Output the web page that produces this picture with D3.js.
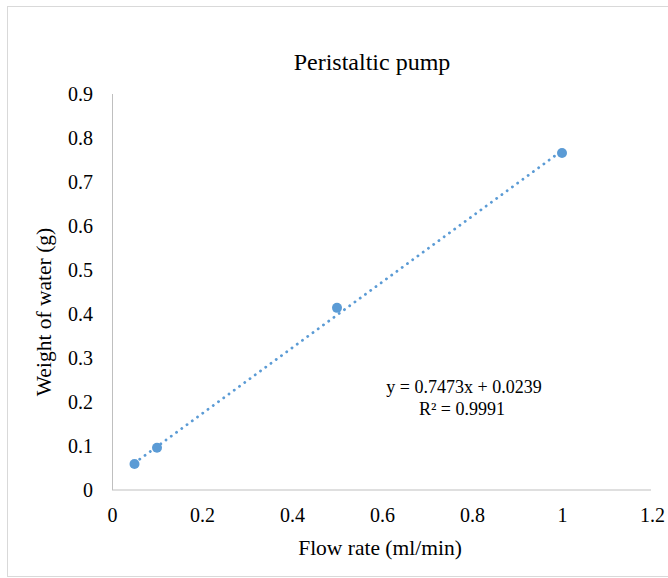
<!DOCTYPE html>
<html>
<head>
<meta charset="utf-8">
<script src="https://cdn.jsdelivr.net/npm/d3@7"></script>
<style>
  body { margin: 0; background: #fff; }
  svg text { font-family: "Liberation Serif", "Times New Roman", serif; fill: #000; }
</style>
</head>
<body>
<div id="container"></div>
<script>
// chart size
const width = 668,
height = 578,
margin = {top: 94, bottom: 88, left: 112, right: 16};

// data
const flowRate = [0.05, 0.1, 0.5, 1];
const weight = [0.059, 0.096, 0.414, 0.766];
const xTicks = [0, 0.2, 0.4, 0.6, 0.8, 1, 1.2];
const yTicks = [0, 0.1, 0.2, 0.3, 0.4, 0.5, 0.6, 0.7, 0.8, 0.9];
const slope = 0.7473, intercept = 0.0239;
const rSquared = 0.9991;

const points = flowRate.map((d, i) => ({x: d, y: weight[i]}));
const serif = "Liberation Serif";

const svg = d3.select("#container").append("svg")
  .attr("width", width)
  .attr("height", height);

// outer chart border
svg.append("rect")
  .attr("x", 7.5).attr("y", 6.5)
  .attr("width", 680).attr("height", 570)
  .attr("fill", "none")
  .attr("stroke", "#d9d9d9");

const xScale = d3.scaleLinear().domain([0, 1.2]).range([margin.left, width - margin.right]);
const yScale = d3.scaleLinear().domain([0, 0.9]).range([height - margin.bottom, margin.top]);

// axes
const fmt = d => String(+d.toFixed(1));
const xAxis = d3.axisBottom(xScale).tickValues(xTicks).tickSize(0).tickPadding(18).tickFormat(fmt);
const yAxis = d3.axisLeft(yScale).tickValues(yTicks).tickSize(0).tickPadding(19).tickFormat(fmt);

const gx = svg.append("g")
  .attr("transform", `translate(0,${yScale(0)})`)
  .call(xAxis);
gx.select(".domain").attr("stroke", "#bfbfbf").attr("d", `M${xScale(0)},0H${xScale(1.2) - 1}`);
gx.selectAll("text").attr("font-size", "20px").attr("font-family", serif);

const gy = svg.append("g")
  .attr("transform", `translate(${xScale(0)},0)`)
  .call(yAxis);
gy.select(".domain").attr("stroke", "#bfbfbf").attr("d", `M0.5,${yScale(0)}V${yScale(0.9)}`);
gy.selectAll("text").attr("font-size", "20px").attr("font-family", serif);

// trendline (dotted)
const xMin = d3.min(flowRate), xMax = d3.max(flowRate);
const trend = [{x: xMin, y: slope * xMin + intercept}, {x: xMax, y: slope * xMax + intercept}];
svg.append("path")
  .datum(trend)
  .attr("d", d3.line().x(d => xScale(d.x)).y(d => yScale(d.y)))
  .attr("fill", "none")
  .attr("stroke", "#5b9bd5")
  .attr("stroke-width", 2.8)
  .attr("stroke-linecap", "round")
  .attr("stroke-dasharray", "0.1 6.4");

// points
svg.selectAll("circle.dot")
  .data(points)
  .join("circle")
  .attr("class", "dot")
  .attr("r", 5)
  .attr("cx", d => xScale(d.x))
  .attr("cy", d => yScale(d.y))
  .attr("fill", "#5b9bd5");

// title
svg.append("text")
  .attr("x", 372).attr("y", 70)
  .attr("text-anchor", "middle")
  .attr("font-family", serif)
  .attr("font-size", "24px")
  .text("Peristaltic pump");

// axis titles
svg.append("text")
  .attr("x", 380).attr("y", 555)
  .attr("text-anchor", "middle")
  .attr("font-family", serif)
  .attr("font-size", "21.5px")
  .text("Flow rate (ml/min)");

svg.append("text")
  .attr("transform", `translate(51,312) rotate(-90)`)
  .attr("text-anchor", "middle")
  .attr("font-family", serif)
  .attr("font-size", "21.5px")
  .text("Weight of water (g)");

// equation
const eq = svg.append("text").attr("text-anchor", "middle")
  .attr("font-family", serif).attr("font-size", "18px");
eq.append("tspan").attr("x", 464).attr("y", 393).text(`y = ${slope}x + ${intercept}`);
eq.append("tspan").attr("x", 462).attr("y", 415).text(`R² = ${rSquared}`);
</script>
</body>
</html>
